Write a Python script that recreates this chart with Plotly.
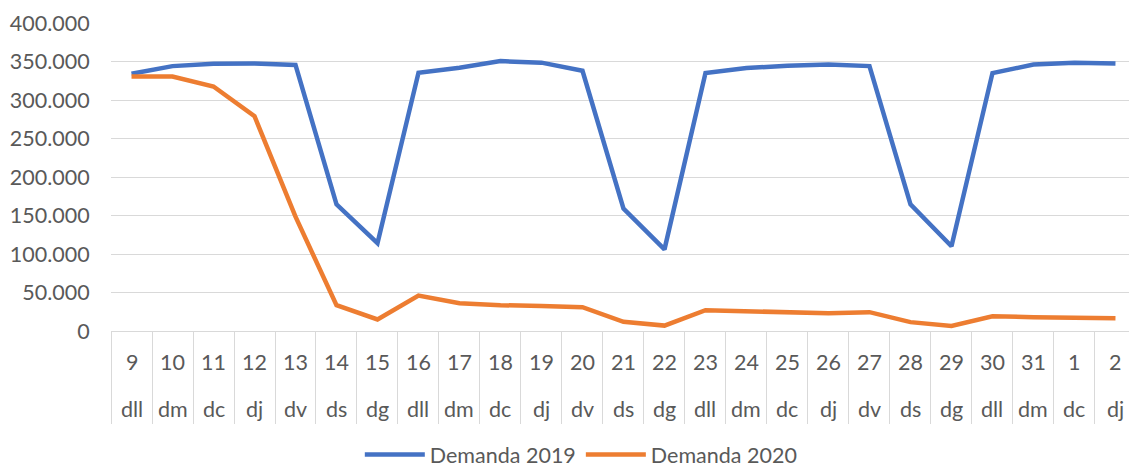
import plotly.graph_objects as go

days = ["9", "10", "11", "12", "13", "14", "15", "16", "17", "18", "19", "20", "21",
        "22", "23", "24", "25", "26", "27", "28", "29", "30", "31", "1", "2"]
day_names = ["dll", "dm", "dc", "dj", "dv", "ds", "dg", "dll", "dm", "dc", "dj", "dv", "ds",
             "dg", "dll", "dm", "dc", "dj", "dv", "ds", "dg", "dll", "dm", "dc", "dj"]
demanda_2019 = [334000, 344000, 347000, 347500, 345500, 164500, 114000, 335500, 342000, 350500,
                348500, 338000, 159000, 106000, 335000, 341500, 344500, 346000, 344000, 164500,
                110000, 335000, 346000, 348500, 347500]
demanda_2020 = [330500, 330500, 317500, 279000, 148500, 33500, 15000, 46000, 36000, 33500,
                32500, 31000, 12000, 7000, 27000, 25500, 24500, 23000, 24500, 11500,
                6500, 19000, 18000, 17500, 16500]

TXT = "#595959"
GRID = "#d9d9d9"
FONT = "Lato, Open Sans, sans-serif"
FS = 21.5

fig = go.Figure()
fig.add_trace(go.Scatter(x=days, y=demanda_2019, mode="lines", name="Demanda 2019",
                         line=dict(color="#4472C4", width=4.5)))
fig.add_trace(go.Scatter(x=days, y=demanda_2020, mode="lines", name="Demanda 2020",
                         line=dict(color="#ED7D31", width=4.5)))

annotations = []
for i, (d, n) in enumerate(zip(days, day_names)):
    annotations.append(dict(x=i, y=0, xref="x", yref="y", text=d, showarrow=False,
                            yanchor="middle", yshift=-31, font=dict(family=FONT, size=FS, color=TXT)))
    annotations.append(dict(x=i, y=0, xref="x", yref="y", text=n, showarrow=False,
                            yanchor="middle", yshift=-78, font=dict(family=FONT, size=FS, color=TXT)))

fig.update_layout(
    width=1129, height=475,
    margin=dict(l=111, r=0, t=23, b=137),
    paper_bgcolor="white", plot_bgcolor="white",
    separators=",.",
    font=dict(family=FONT, size=FS, color=TXT),
    showlegend=True,
    legend=dict(orientation="h", x=0.462, xanchor="center", y=-0.403, yanchor="middle",
                font=dict(family=FONT, size=FS, color=TXT), itemwidth=60, tracegroupgap=0),
    annotations=annotations,
    xaxis=dict(type="category", range=[-0.5, 24.33], showgrid=False, zeroline=False,
               showline=False, showticklabels=False, ticks="outside", tickson="boundaries",
               ticklen=92, tickcolor=GRID, tickwidth=1.3, automargin=False),
    yaxis=dict(range=[0, 400000], dtick=50000, tickformat=",d", showgrid=True,
               gridcolor=GRID, gridwidth=1.3, zeroline=True, zerolinecolor=GRID, zerolinewidth=1.3,
               showline=False, ticks="outside", ticklen=16, tickcolor="rgba(0,0,0,0)",
               tickfont=dict(family=FONT, size=FS, color=TXT), automargin=False),
)

fig.write_html("out.html", config={"displayModeBar": False},
               post_script="document.body.style.margin='0';document.body.style.overflow='hidden';")
